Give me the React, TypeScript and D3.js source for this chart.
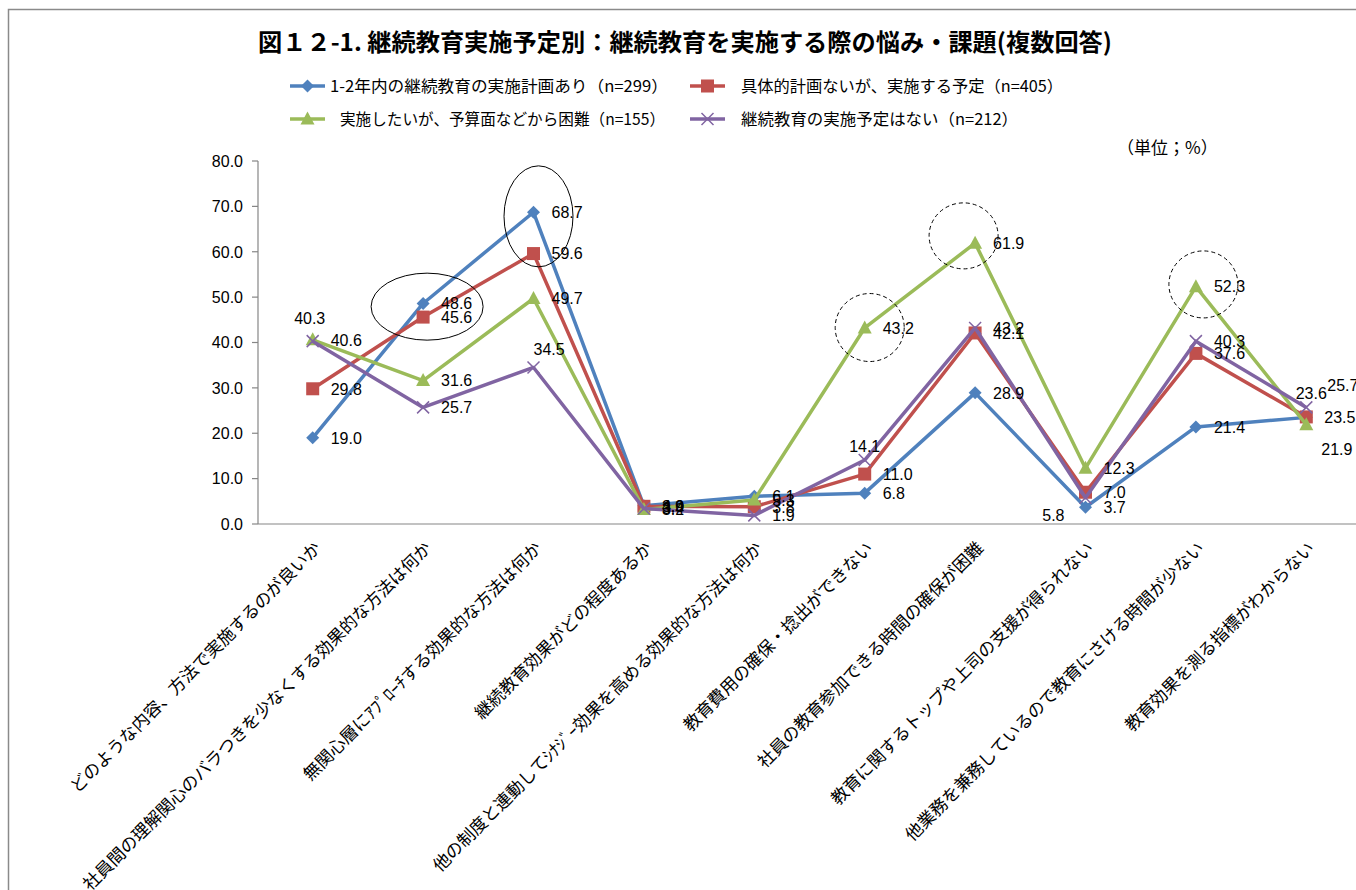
import React from 'react';
import * as d3 from 'd3';

const titleText = '図１２-1. 継続教育実施予定別：継続教育を実施する際の悩み・課題(複数回答)';
const unitText = '（単位；%）';

const categories = [
  'どのような内容、方法で実施するのが良いか',
  '社員間の理解関心のバラつきを少なくする効果的な方法は何か',
  '無関心層にｱﾌﾟﾛｰﾁする効果的な方法は何か',
  '継続教育効果がどの程度あるか',
  '他の制度と連動してｼﾅｼﾞｰ効果を高める効果的な方法は何か',
  '教育費用の確保・捻出ができない',
  '社員の教育参加できる時間の確保が困難',
  '教育に関するトップや上司の支援が得られない',
  '他業務を兼務しているので教育にさける時間が少ない',
  '教育効果を測る指標がわからない',
];

const seriesNames = [
  '1-2年内の継続教育の実施計画あり（n=299）',
  '具体的計画ないが、実施する予定（n=405）',
  ' 実施したいが、予算面などから困難（n=155）',
  '継続教育の実施予定はない（n=212）',
];

const seriesPlan = [19.0, 48.6, 68.7, 4.0, 6.1, 6.8, 28.9, 3.7, 21.4, 23.5];
const seriesIntend = [29.8, 45.6, 59.6, 3.9, 3.8, 11.0, 42.1, 7.0, 37.6, 23.6];
const seriesDifficult = [40.6, 31.6, 49.7, 3.2, 5.3, 43.2, 61.9, 12.3, 52.3, 21.9];
const seriesNone = [40.3, 25.7, 34.5, 3.4, 1.9, 14.1, 43.2, 5.8, 40.3, 25.7];

const yTicks = [0, 10, 20, 30, 40, 50, 60, 70, 80];

const colors = ['#4F81BD', '#C0504D', '#9BBB59', '#8064A2'];
const markers = ['diamond', 'square', 'triangle', 'cross'];

// label adjustments (series index - category index)
const labelAdjust: Record<string, { dx: number; dy: number; anchor: string }> = {
  '3-0': { dx: -3, dy: -23, anchor: 'middle' },
  '3-2': { dx: 0, dy: -18, anchor: 'start' },
  '3-5': { dx: 0, dy: -14, anchor: 'middle' },
  '3-7': { dx: -21, dy: 18, anchor: 'end' },
  '1-9': { dx: 5, dy: -24, anchor: 'middle' },
  '3-9': { dx: 21, dy: -22, anchor: 'start' },
  '2-9': { dx: 15, dy: 25, anchor: 'start' },
};

// highlight shapes: category index, value at centre, radii
const highlights = [
  { cat: 1, value: 47.9, dx: 4, rx: 56, ry: 33.5, dashed: false },
  { cat: 2, value: 67.8, dx: 5, rx: 34.5, ry: 50.5, dashed: false },
  { cat: 5, value: 43.3, dx: 5, rx: 34.5, ry: 34, dashed: true },
  { cat: 6, value: 63.5, dx: -11.5, rx: 34.5, ry: 33, dashed: true },
  { cat: 8, value: 52.8, dx: 7.5, rx: 34.5, ry: 33.5, dashed: true },
];

const W = 1356;
const H = 890;
const plotLeft = 257.5;
const plotRight = 1361.5;
const plotTop = 161;
const plotBottom = 524;

const jpFont = "'Noto Sans CJK JP', 'Noto Sans', sans-serif";
const numFont = "'Liberation Sans', Arial, sans-serif";

function Marker({ kind, x, y, color }: { kind: string; x: number; y: number; color: string }) {
  if (kind === 'diamond') {
    const r = 6.5;
    return <path d={`M${x},${y - r}L${x + r},${y}L${x},${y + r}L${x - r},${y}Z`} fill={color} />;
  }
  if (kind === 'square') {
    const r = 6.5;
    return <rect x={x - r} y={y - r} width={2 * r} height={2 * r} fill={color} />;
  }
  if (kind === 'triangle') {
    return <path d={`M${x},${y - 7.5}L${x + 7},${y + 5.5}L${x - 7},${y + 5.5}Z`} fill={color} />;
  }
  const r = 6;
  return (
    <path d={`M${x - r},${y - r}L${x + r},${y + r}M${x - r},${y + r}L${x + r},${y - r}`} stroke={color} strokeWidth={1.5} fill="none" />
  );
}

export default function App() {
  const series = [seriesPlan, seriesIntend, seriesDifficult, seriesNone];
  const xBand = d3.scaleBand<string>().domain(categories).range([plotLeft, plotRight]).paddingInner(0).paddingOuter(0);
  const xc = (i: number) => (xBand(categories[i]) as number) + xBand.bandwidth() / 2;
  const y = d3.scaleLinear().domain([0, 80]).range([plotBottom, plotTop]);
  const line = d3
    .line<number>()
    .x((_, i) => xc(i))
    .y((d) => y(d));

  const legendPos = [
    { lx: 290, tx: 330, ly: 86 },
    { lx: 690, tx: 741, ly: 86 },
    { lx: 290, tx: 340, ly: 119 },
    { lx: 690, tx: 741, ly: 119 },
  ];
  const legendLen = [338, 322, 325, 277];

  return (
    <div style={{ position: 'absolute', left: 0, top: 0 }}>
      <svg width={W} height={H} style={{ display: 'block', background: '#fff' }}>
        <rect x={8.5} y={9.5} width={W + 10} height={H + 10} fill="#fff" stroke="#8a8a8a" strokeWidth={1.5} />

        <text x={258} y={51} fontFamily={jpFont} fontWeight={700} fontSize={24} textLength={854} lengthAdjust="spacingAndGlyphs" fill="#000">
          {titleText}
        </text>

        {seriesNames.map((name, s) => {
          const p = legendPos[s];
          return (
            <g key={name}>
              <line x1={p.lx} x2={p.lx + 35} y1={p.ly} y2={p.ly} stroke={colors[s]} strokeWidth={3.5} />
              <Marker kind={markers[s]} x={p.lx + 17.5} y={p.ly} color={colors[s]} />
              <text x={p.tx} y={p.ly} dy="0.35em" fontFamily={jpFont} fontSize={16} textLength={legendLen[s]} lengthAdjust="spacingAndGlyphs" fill="#000">
                {name.trim()}
              </text>
            </g>
          );
        })}

        <text x={1117} y={148} dy="0.35em" fontFamily={jpFont} fontSize={17} fill="#000">
          {unitText}
        </text>

        {/* axes */}
        <line x1={258} x2={258} y1={plotTop} y2={plotBottom} stroke="#868686" strokeWidth={1.2} />
        <line x1={258} x2={W} y1={plotBottom} y2={plotBottom} stroke="#868686" strokeWidth={1.2} />
        {yTicks.map((t) => (
          <g key={t}>
            <line x1={252} x2={258} y1={y(t)} y2={y(t)} stroke="#868686" strokeWidth={1.2} />
            <text x={243} y={y(t)} dy="0.36em" textAnchor="end" fontFamily={numFont} fontSize={16} fill="#000">
              {t.toFixed(1)}
            </text>
          </g>
        ))}

        {categories.map((c, i) => (
          <text
            key={c}
            transform={`translate(${xc(i) + 5},${545}) rotate(-45)`}
            textAnchor="end"
            dy="0.35em"
            fontFamily={jpFont}
            fontSize={17.3}
            fill="#000"
          >
            {c}
          </text>
        ))}

        {series.map((vals, s) => (
          <g key={s}>
            <path d={line(vals) || ''} fill="none" stroke={colors[s]} strokeWidth={3.5} strokeLinejoin="round" />
            {vals.map((v, i) => (
              <Marker key={i} kind={markers[s]} x={xc(i)} y={y(v)} color={colors[s]} />
            ))}
          </g>
        ))}

        {series.map((vals, s) =>
          vals.map((v, i) => {
            const adj = labelAdjust[`${s}-${i}`] || { dx: 18, dy: 0, anchor: 'start' };
            return (
              <text
                key={`${s}-${i}`}
                x={xc(i) + adj.dx}
                y={y(v) + adj.dy}
                dy="0.36em"
                textAnchor={adj.anchor as any}
                fontFamily={numFont}
                fontSize={16}
                fill="#000"
              >
                {v.toFixed(1)}
              </text>
            );
          })
        )}

        {highlights.map((h, k) => (
          <ellipse
            key={k}
            cx={xc(h.cat) + h.dx}
            cy={y(h.value)}
            rx={h.rx}
            ry={h.ry}
            fill="none"
            stroke="#000"
            strokeWidth={1}
            strokeDasharray={h.dashed ? '4 3' : undefined}
          />
        ))}
      </svg>
    </div>
  );
}
